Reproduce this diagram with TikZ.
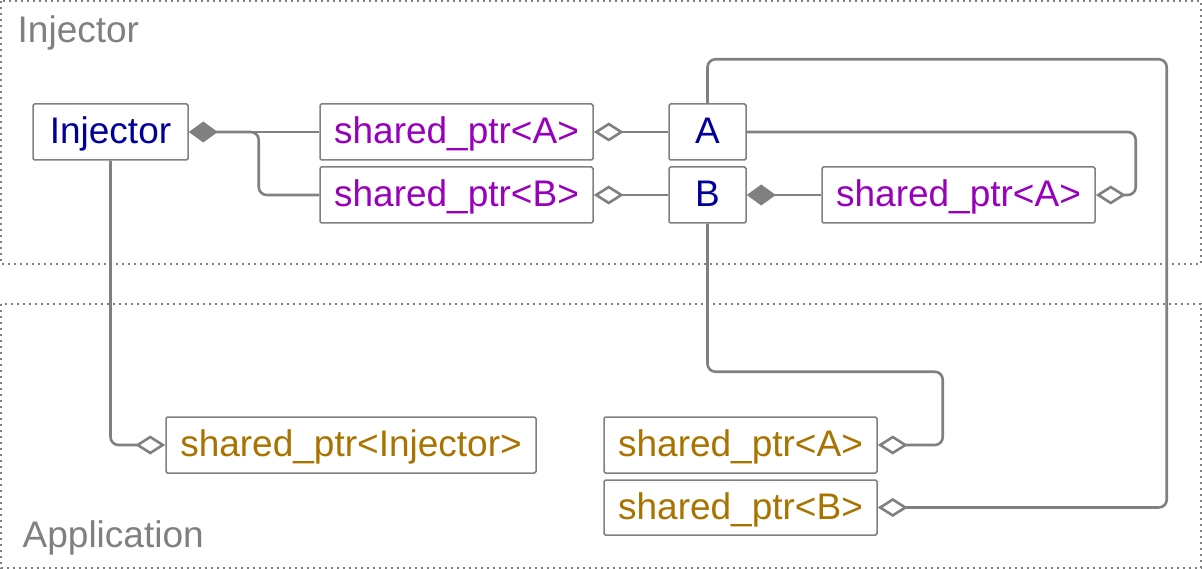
\documentclass[tikz,border=0pt]{standalone}
\usepackage{fontspec}
\setmainfont{Liberation Sans}
\usetikzlibrary{arrows.meta}
\definecolor{lg}{HTML}{808080}
\definecolor{nv}{HTML}{000099}
\definecolor{pu}{HTML}{9900BB}
\definecolor{go}{HTML}{AA7300}
\begin{document}
\begin{tikzpicture}[x=1pt,y=-1pt,
  box/.style={draw=lg, line width=1.5pt, rounded corners=1.5pt, fill=white,
    minimum height=56pt, inner sep=0pt, text height=27pt, text depth=4pt,
    font=\fontsize{37}{44}\selectfont},
  cls/.style={box, text=nv},
  ptr/.style={box, text=pu, minimum width=273pt},
  app/.style={box, text=go},
  link/.style={draw=lg, line width=2.6pt, rounded corners=8pt},
  agg/.style={link, {Diamond[open, length=30pt, width=19pt, line width=2.6pt]}-},
  comp/.style={link, {Diamond[length=29pt, width=21pt]}-},
  frame/.style={draw=lg, line width=2.4pt, dash pattern=on 2.4pt off 3.6pt},
  flabel/.style={text=lg, inner sep=0pt, anchor=base west, font=\fontsize{37}{44}\selectfont}
]
\useasboundingbox (0,0) rectangle (1202,569);
% frames
\draw[frame] (1,1) rectangle (1201,264);
\draw[frame] (1,304) rectangle (1201,568);
\node[flabel] (lblinj) at (17.5,43) {Injector};
\node[flabel] (lblapp) at (22.5,547) {Application};
% nodes
\node[cls, minimum width=155pt] (inj) at (110.5,132) {Injector};
\node[ptr] (spA1) at (456.5,132) {shared\_ptr<A>};
\node[ptr] (spB1) at (456.5,195) {shared\_ptr<B>};
\node[cls, minimum width=77pt] (A) at (707.5,132) {A};
\node[cls, minimum width=77pt] (B) at (707.5,195) {B};
\node[ptr] (spA2) at (958.5,195) {shared\_ptr<A>};
\node[app, minimum width=370pt] (spI) at (351,445) {shared\_ptr<Injector>};
\node[app, minimum width=273pt] (spA3) at (740.5,445) {shared\_ptr<A>};
\node[app, minimum width=273pt, minimum height=55pt] (spB3) at (740.5,507.5) {shared\_ptr<B>};
% connectors
\draw[comp] (inj.east) -- (spA1.west);
\draw[link] ([xshift=27pt]inj.east) -- ++(43,0) |- (spB1.west);
\draw[agg] (spA1.east) -- (A.west);
\draw[agg] (spB1.east) -- (B.west);
\draw[comp] (B.east) -- (spA2.west);
\draw[agg] (spA2.east) -- ++(40,0) |- (A.east);
\draw[agg] (spB3.east) -- ++(289,0) |- ([yshift=44pt]A.north) -- (A.north);
\draw[agg] (spA3.east) -- ++(65,0) |- ([yshift=-148pt]B.south) -- (B.south);
\draw[agg] (spI.west) -| (inj.south);
\end{tikzpicture}
\end{document}
